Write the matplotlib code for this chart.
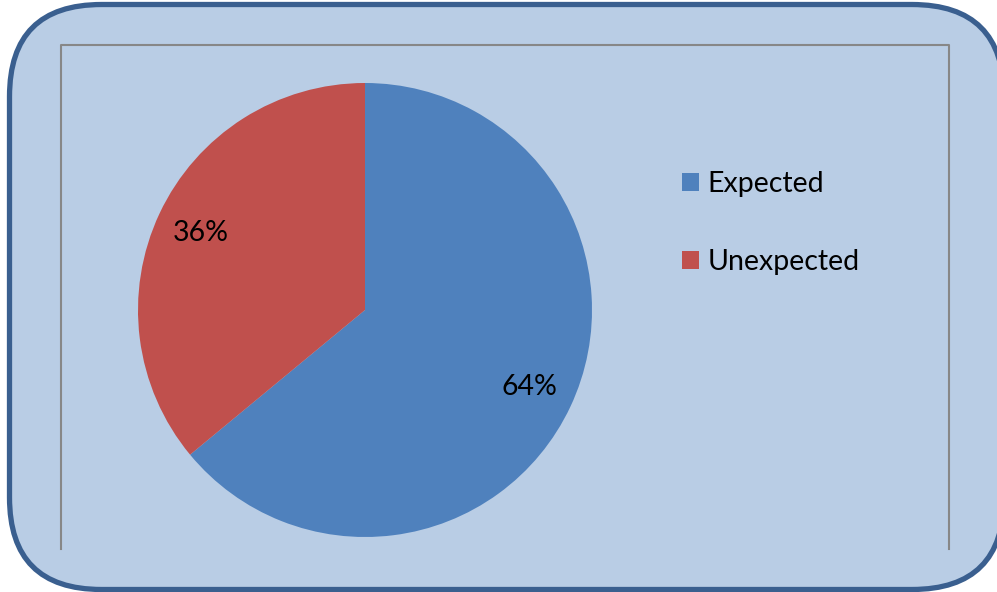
import matplotlib
matplotlib.use("Agg")
import matplotlib.pyplot as plt
from matplotlib.patches import FancyBboxPatch
from matplotlib.lines import Line2D

categories = ["Expected", "Unexpected"]
values = [64, 36]
colors = ["#4F81BD", "#C0504D"]

W, H = 997, 592
fig = plt.figure(figsize=(W / 100, H / 100), dpi=100)
fig.patch.set_facecolor("white")

bg = fig.add_axes([0, 0, 1, 1])
bg.set_xlim(0, W)
bg.set_ylim(H, 0)
bg.axis("off")

rad = 92
box = FancyBboxPatch((9.5 + rad, 4.5 + rad), 1004 - 9.5 - 2 * rad, 589.5 - 4.5 - 2 * rad,
                     boxstyle="round,pad=%d" % rad, facecolor="#B9CDE5",
                     edgecolor="#3A5F8F", linewidth=3.8)
bg.add_patch(box)
bg.add_line(Line2D([60.5, 60.5, 949, 949], [549, 45, 45, 549],
                   color="#878787", linewidth=1.5))

cx, cy, r = 365, 310, 227
ax = fig.add_axes([(cx - r) / W, (H - cy - r) / H, 2 * r / W, 2 * r / H])
wedges, texts, autotexts = ax.pie(values, colors=colors, startangle=90,
                                  counterclock=False, autopct="%d%%",
                                  pctdistance=0.8,
                                  wedgeprops=dict(linewidth=0),
                                  textprops=dict(fontsize=20.5, family="Lato",
                                                 color="black"))
ax.set_xlim(-1, 1)
ax.set_ylim(-1, 1)
ax.set_aspect("equal")

leg = fig.legend(wedges, categories, loc="upper left",
                 bbox_to_anchor=(656 / W, 1 - 145 / H), frameon=False,
                 prop=dict(family="Lato", size=20.5),
                 handlelength=0.6, handleheight=0.6, handletextpad=0.32,
                 labelspacing=1.83)

fig.savefig("out.png", dpi=100)
